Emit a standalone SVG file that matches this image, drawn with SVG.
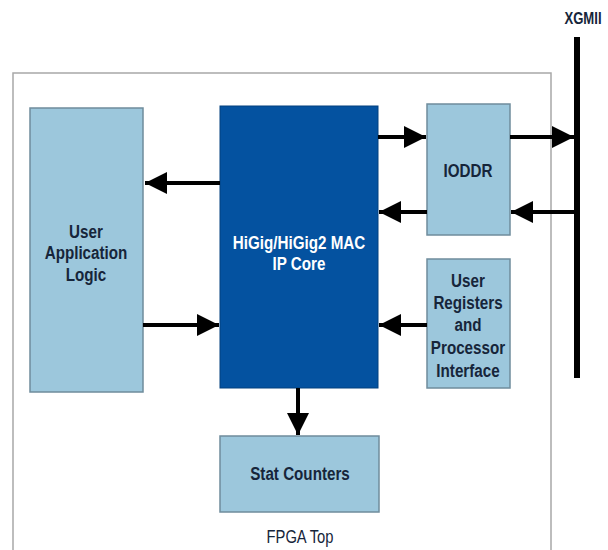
<svg xmlns="http://www.w3.org/2000/svg" width="608" height="550" viewBox="0 0 608 550">
<defs>
<style>
.lb{fill:#9cc7dc;stroke:#6f8c9c;stroke-width:1.5}
.db{fill:#0452a0;stroke:#03407e;stroke-width:1}
.t{font-family:"Liberation Sans",Arial,sans-serif;font-weight:bold;font-size:19px;text-anchor:middle;fill:#16253a}
.w{fill:#ffffff}
.c{stroke:#000;stroke-width:4;fill:none}
</style>
<marker id="ah" viewBox="0 0 10 10" refX="10" refY="5" markerWidth="5.5" markerHeight="5.5" orient="auto" markerUnits="strokeWidth">
<path d="M0,0 L10,5 L0,10 z" fill="#000"/>
</marker>
</defs>
<rect width="608" height="550" fill="#fff"/>
<g id="frame">
<path d="M13,552 V73 H551 V552" fill="none" stroke="#a8a8a8" stroke-width="1.5"/>
<text class="t" transform="translate(300,543) scale(0.82,1)" style="font-weight:normal;font-size:18px">FPGA Top</text>
</g>
<g id="xgmii">
<rect x="574" y="37" width="6" height="341" fill="#000"/>
<text class="t" transform="translate(583,24) scale(0.82,1)" style="font-size:16px">XGMII</text>
</g>
<g id="ual">
<rect class="lb" x="30" y="108" width="113" height="284"/>
<text class="t" transform="translate(86,238) scale(0.8,1)">User</text>
<text class="t" transform="translate(86,259) scale(0.8,1)">Application</text>
<text class="t" transform="translate(86,281) scale(0.8,1)">Logic</text>
</g>
<g id="mac">
<rect class="db" x="220" y="106" width="158" height="282"/>
<text class="t w" transform="translate(299,249) scale(0.8,1)">HiGig/HiGig2 MAC</text>
<text class="t w" transform="translate(299,270) scale(0.8,1)">IP Core</text>
</g>
<g id="ioddr">
<rect class="lb" x="427" y="104" width="83" height="131"/>
<text class="t" transform="translate(468,177) scale(0.8,1)">IODDR</text>
</g>
<g id="ureg">
<rect class="lb" x="427" y="259" width="83" height="129"/>
<text class="t" transform="translate(468,287) scale(0.8,1)">User</text>
<text class="t" transform="translate(468,309) scale(0.8,1)">Registers</text>
<text class="t" transform="translate(468,331) scale(0.8,1)">and</text>
<text class="t" transform="translate(468,354) scale(0.8,1)">Processor</text>
<text class="t" transform="translate(468,377) scale(0.8,1)">Interface</text>
</g>
<g id="stat">
<rect class="lb" x="220" y="436" width="159" height="76"/>
<text class="t" transform="translate(300,480) scale(0.8,1)">Stat Counters</text>
</g>
<g id="connectors">
<line class="c" x1="220" y1="183" x2="145" y2="183" marker-end="url(#ah)"/>
<line class="c" x1="143" y1="325" x2="219" y2="325" marker-end="url(#ah)"/>
<line class="c" x1="378" y1="137" x2="426" y2="137" marker-end="url(#ah)"/>
<line class="c" x1="427" y1="212" x2="379" y2="212" marker-end="url(#ah)"/>
<line class="c" x1="510" y1="137" x2="574" y2="137" marker-end="url(#ah)"/>
<line class="c" x1="574" y1="212" x2="511" y2="212" marker-end="url(#ah)"/>
<line class="c" x1="427" y1="325" x2="379" y2="325" marker-end="url(#ah)"/>
<line class="c" x1="298" y1="388" x2="298" y2="435" marker-end="url(#ah)"/>
</g>
</svg>
